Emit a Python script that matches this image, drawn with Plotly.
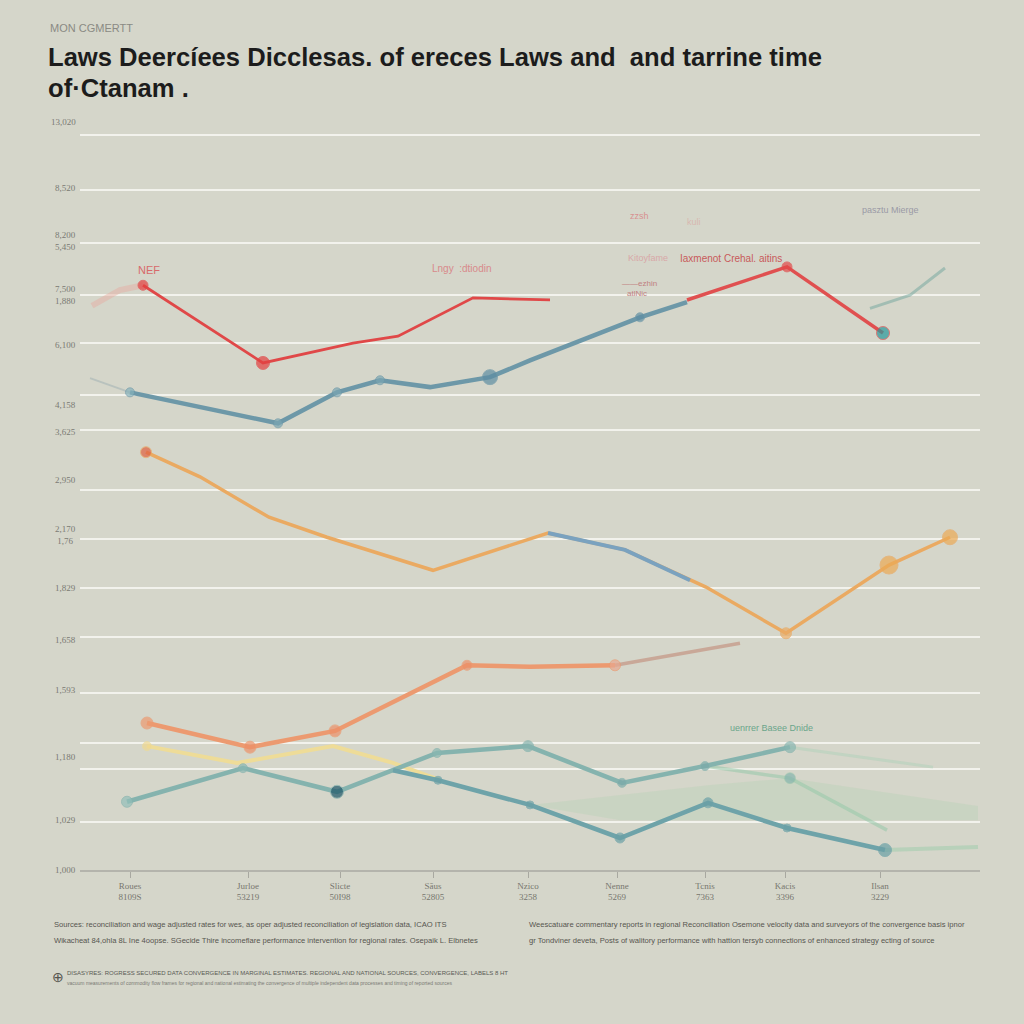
import plotly.graph_objects as go

# ---------------- data ----------------
x_ticks = [0.5, 1.68, 2.6, 3.53, 4.48, 5.37, 6.25, 7.05, 8.0]
x_labels = ["Roues<br>8109S", "Jurloe<br>53219", "Slicte<br>50I98", "Sāus<br>52805", "Nzico<br>3258",
            "Nenne<br>5269", "Tcnis<br>7363", "Kacis<br>3396", "Ilsan<br>3229"]

grid_vals = [0, 0.91, 1.92, 2.42, 3.37, 4.44, 5.37, 6.30, 7.24, 8.38, 9.05, 10.04, 10.95, 11.94, 12.95, 14.0]
y_label_vals = [14.25, 13.0, 11.98, 10.95, 10.0, 8.85, 8.35, 7.43, 6.38, 5.37, 4.38, 3.43, 2.15, 0.95, 0.0]
y_label_text = ["13,020", "8,520", "8,200<br>5,450", "7,500<br>1,880", "6,100", "4,158", "3,625",
                "2,950", "2,170<br>1,76", "1,829", "1,658", "1,593", "1,180", "1,029", "1,000"]

red_a_x = [0.63, 1.83, 2.73, 3.18, 3.93, 4.70]
red_a_y = [11.14, 9.66, 10.04, 10.17, 10.90, 10.86]
red_b_x = [6.07, 7.07, 8.03]
red_b_y = [10.86, 11.49, 10.23]
red_ghost_x = [0.12, 0.4, 0.63]
red_ghost_y = [10.75, 11.05, 11.14]

blue_x = [0.5, 1.98, 2.57, 3.0, 3.5, 4.1, 4.5, 5.6, 6.07]
blue_y = [9.10, 8.51, 9.10, 9.33, 9.20, 9.39, 9.71, 10.53, 10.82]
blue_ghost_x = [0.1, 0.5]
blue_ghost_y = [9.37, 9.10]
blue_tail_x = [7.9, 8.3, 8.65]
blue_tail_y = [10.70, 10.95, 11.47]

orange_x = [0.66, 1.2, 1.89, 2.47, 3.53, 4.68, 5.45, 6.26, 7.06, 8.09, 8.70]
orange_y = [7.96, 7.49, 6.72, 6.34, 5.71, 6.42, 6.10, 5.39, 4.51, 5.81, 6.34]
steel_x = [4.68, 5.45, 6.1]
steel_y = [6.42, 6.10, 5.52]

orange_low_x = [0.67, 1.7, 2.55, 3.87, 4.5, 5.35]
orange_low_y = [2.80, 2.34, 2.65, 3.90, 3.87, 3.90]
tan_x = [5.35, 6.6]
tan_y = [3.90, 4.32]

yellow_x = [0.67, 1.57, 2.53, 3.13, 3.6]
yellow_y = [2.36, 2.04, 2.36, 2.04, 1.71]

teal_a_x = [0.47, 1.63, 2.57, 3.57, 4.48, 5.42, 6.25, 7.1]
teal_a_y = [1.30, 1.94, 1.49, 2.23, 2.36, 1.66, 1.98, 2.34]
teal_a_tail_x = [7.1, 8.53]
teal_a_tail_y = [2.34, 1.96]

teal_b_x = [3.13, 3.58, 4.5, 5.4, 6.28, 7.07, 8.05]
teal_b_y = [1.90, 1.71, 1.24, 0.61, 1.28, 0.80, 0.38]
teal_b_tail_x = [8.05, 8.98]
teal_b_tail_y = [0.38, 0.44]

teal_c_x = [6.25, 7.1, 8.07]
teal_c_y = [1.98, 1.75, 0.76]
green_fill_x = [4.5, 6.3, 7.1, 8.98, 8.98, 7.1, 5.4]
green_fill_y = [1.24, 1.62, 1.75, 1.22, 0.95, 0.95, 0.95]

BG = "#d5d6ca"
Y_TOP = 14.06
M_T, M_B, M_L, M_R = 132, 154, 80, 44
PLOT_W = 1024 - M_L - M_R
PLOT_H = 1024 - M_T - M_B

fig = go.Figure()

def line(x, y, color, width=3.5, sizes=None, mcolors=None, opacity=1.0):
    mode = "lines+markers" if sizes else "lines"
    fig.add_trace(go.Scatter(
        x=x, y=y, mode=mode, opacity=opacity,
        line=dict(color=color, width=width),
        marker=dict(size=sizes if sizes else 1, color=mcolors if mcolors else color),
        showlegend=False, hoverinfo="skip", cliponaxis=False))

# faint fills / ghosts
fig.add_trace(go.Scatter(x=green_fill_x, y=green_fill_y, fill="toself", mode="lines",
                         line=dict(color="rgba(170,205,170,0.0)"), fillcolor="rgba(175,210,175,0.30)",
                         showlegend=False, hoverinfo="skip"))
line(red_ghost_x, red_ghost_y, "rgba(230,170,160,0.45)", 6)
line(blue_ghost_x, blue_ghost_y, "rgba(150,170,175,0.45)", 2)
line(teal_c_x, teal_c_y, "rgba(150,200,170,0.55)", 3.5, [0, 11, 0], ["#7fb0ab", "#86b5ae", "#9cc7b4"])
line(teal_a_tail_x, teal_a_tail_y, "rgba(175,210,185,0.5)", 3)
line(teal_b_tail_x, teal_b_tail_y, "rgba(165,205,175,0.6)", 4)
line(blue_tail_x, blue_tail_y, "rgba(120,170,160,0.55)", 3)

line(yellow_x, yellow_y, "#eedc98", 4, [9, 0, 0, 0, 0], "#f0d890")
line(teal_a_x, teal_a_y, "#85b3ae", 4.5, [11, 9, 13, 9, 11, 9, 9, 11],
     ["#93bfb9", "#8ab8b2", "#1d5668", "#8ab8b2", "#85b3ae", "#7aaaa9", "#7aaaa9", "#8ab8b2"])
line(teal_b_x, teal_b_y, "#6ea3a9", 4.5, [0, 8, 8, 10, 10, 8, 13], "#6aa0a6")

line(tan_x, tan_y, "#c9a898", 3.5)
line(orange_low_x, orange_low_y, "#ec9a70", 4.5, [12, 12, 12, 10, 0, 11],
     ["#ec9a70", "#ec9068", "#ec9068", "#ec9068", "#ec9068", "#e8a890"])

line(orange_x, orange_y, "#eaaa62", 3.5, [11, 0, 0, 0, 0, 0, 0, 0, 11, 18, 15],
     ["#e06040", "#eaaa62", "#eaaa62", "#eaaa62", "#eaaa62", "#eaaa62", "#eaaa62", "#eaaa62",
      "#eaaa62", "#ecaa55", "#ecaa55"])
line(steel_x, steel_y, "#7aa2bf", 4)

line(blue_x, blue_y, "#6d98a8", 4.5, [9, 9, 9, 9, 0, 15, 0, 9, 0],
     ["#86b2bb", "#7aa6b2", "#7aa6b2", "#7aa6b2", "#7aa6b2", "#5e8ea3", "#5e8ea3", "#5e8ea3", "#5e8ea3"])

line(red_a_x, red_a_y, "#e04848", 2.8, [10, 13, 0, 0, 0, 0], "#e44040")
line(red_b_x, red_b_y, "#e05050", 3.5, [0, 10, 13], ["#e05050", "#e44848", "#2a9a9c"])

ann = []
# y labels (paper coords so the top one outside the range is still shown)
for v, t in zip(y_label_vals, y_label_text):
    ann.append(dict(x=-0.002, y=v / Y_TOP, xref="paper", yref="paper", text=t, showarrow=False,
                    xanchor="right", yanchor="middle",
                    font=dict(size=9, color="#7a7a74", family="Liberation Serif, serif")))

def px_x(p):
    return (p - M_L) / PLOT_W

def px_y(p):
    return (1024 - M_B - p) / PLOT_H

def txt(x, y, t, size, color, anchor="left", family="Liberation Sans Narrow, Liberation Sans, sans-serif", bold=False):
    ann.append(dict(x=px_x(x), y=px_y(y), xref="paper", yref="paper",
                    text=("<b>%s</b>" % t) if bold else t, showarrow=False, xanchor=anchor, yanchor="middle",
                    align="left", font=dict(size=size, color=color, family=family)))

txt(48, 28, "MON CGMERTT", 11, "#8a8a84")
txt(46, 57, "Laws Deercíees Dicclesas. of ereces Laws and  and tarrine time", 25.6, "#1c1c1c", bold=True)
txt(46, 88, "of·Ctanam .", 25.6, "#1c1c1c", bold=True)

txt(136, 270, "NEF", 11, "#d86a6a")
txt(430, 268, "Lngy  :dtiodin", 10, "#d88a8a")
txt(626, 258, "Kitoyfame", 9, "#d8a8a8")
txt(678, 258, "Iaxmenot Crehal. aitins", 10, "#c85a5a")
txt(628, 216, "zzsh", 9, "#d89090")
txt(685, 222, "kuli", 9, "#d8b8b0")
txt(620, 283, "——ezhin", 8, "#c08080")
txt(625, 293, "atlNic", 8, "#c08080")
txt(860, 210, "pasztu Mierge", 9, "#9a9aa6")
txt(728, 728, "uenrrer Basee Dnide", 9, "#6aa58a")

foot_l1 = "Sources: reconciliation and wage adjusted rates for wes, as oper adjusted reconciliation of legislation data, ICAO ITS"
foot_l2 = "Wikacheat 84,ohla 8L Ine 4oopse. SGecide Thire incomeflare performance intervention for regional rates. Osepaik L. Elbnetes"
foot_r1 = "Weescatuare commentary reports in regional Reconciliation Osemone velocity data and surveyors of the convergence basis ipnor"
foot_r2 = "gr Tondviner deveta, Posts of walitory performance with hattion tersyb connections of enhanced strategy ecting of source"
txt(52, 924, foot_l1, 7.6, "#55554f")
txt(52, 941, foot_l2, 7.6, "#55554f")
txt(527, 924, foot_r1, 7.6, "#55554f")
txt(527, 941, foot_r2, 7.6, "#55554f")
txt(50, 977, "⊕", 14, "#55554f")
txt(65, 973, "DISASYRES: ROGRESS SECURED DATA CONVERGENCE IN MARGINAL ESTIMATES. REGIONAL AND NATIONAL SOURCES, CONVERGENCE, LABELS 8 HT", 6, "#5a5a54")
txt(65, 983, "vacuum measurements of commodity flow frames for regional and national estimating the convergence of multiple independent data processes and timing of reported sources", 5, "#7a7a74")

fig.update_layout(
    width=1024, height=1024,
    paper_bgcolor=BG, plot_bgcolor=BG,
    margin=dict(l=M_L, r=M_R, t=M_T, b=M_B, pad=0),
    annotations=ann,
    hovermode=False,
    xaxis=dict(range=[0, 9], tickvals=x_ticks, ticktext=x_labels, showgrid=False, zeroline=False,
               showline=True, linecolor="#b4b4ac", linewidth=1.5, ticks="outside", ticklen=6,
               tickcolor="#a8a8a0", tickfont=dict(size=9, color="#77776f", family="Liberation Serif, serif")),
    yaxis=dict(range=[0, Y_TOP], tickvals=grid_vals, showticklabels=False, showgrid=True,
               gridcolor="rgba(247,247,242,0.85)", gridwidth=1.5, zeroline=False, ticks=""),
)

fig.write_html("out.html", config={"displayModeBar": False},
               post_script="document.body.style.margin='0';document.body.style.overflow='hidden';"
                           "document.body.style.background='%s';" % BG)
